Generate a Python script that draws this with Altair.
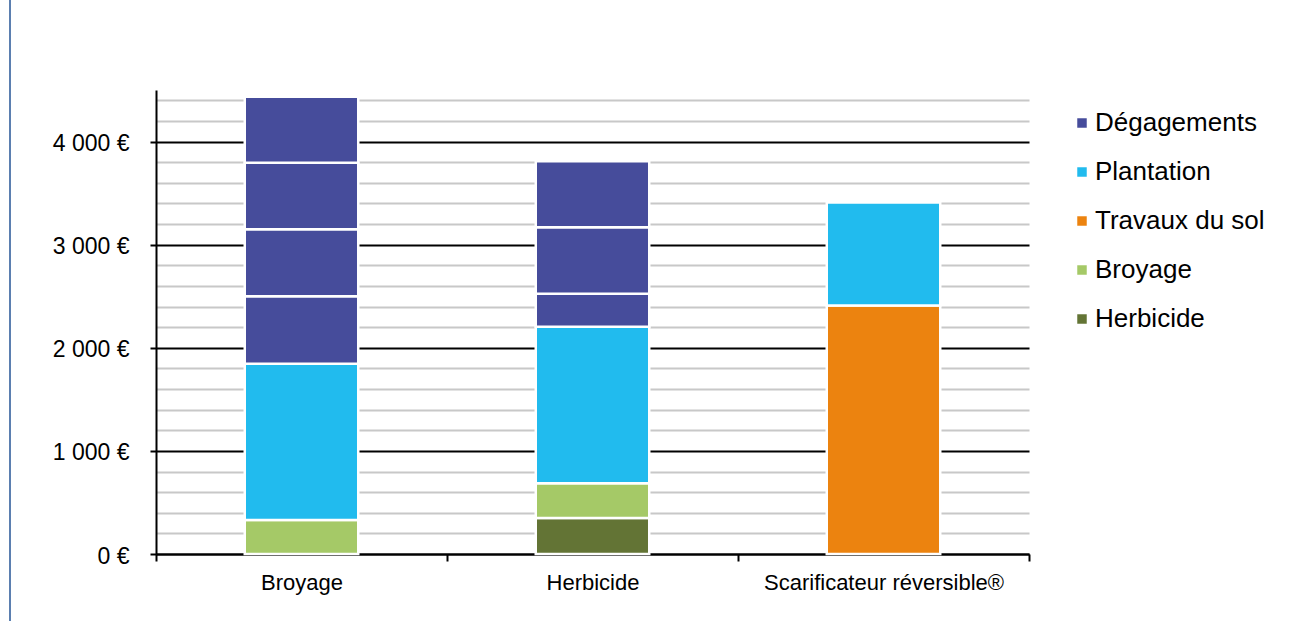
import altair as alt
import pandas as pd

# --- data ---
bars = ["Broyage", "Herbicide", "Scarificateur réversible®"]
categories = ["Dégagements", "Plantation", "Travaux du sol", "Broyage", "Herbicide"]
colors = ["#464C9B", "#21BBEE", "#EC830F", "#A5C967", "#637435"]

# stacked segments (bottom to top) for each bar
seg_bar = ["Broyage"] * 6 + ["Herbicide"] * 6 + ["Scarificateur réversible®"] * 2
seg_cat = ["Broyage", "Plantation", "Dégagements", "Dégagements", "Dégagements", "Dégagements",
           "Herbicide", "Broyage", "Plantation", "Dégagements", "Dégagements", "Dégagements",
           "Travaux du sol", "Plantation"]
seg_val = [330, 1515, 655, 650, 645, 640,
           350, 335, 1520, 320, 645, 640,
           2410, 1000]
seg_ord = [1, 2, 3, 4, 5, 6,
           1, 2, 3, 4, 5, 6,
           1, 2]

y_ticks = list(range(0, 4600, 200))

df = pd.DataFrame({"bar": seg_bar, "cat": seg_cat, "val": seg_val, "ord": seg_ord})

FONT = "Liberation Sans"

bars_layer = alt.Chart(df).mark_bar(
    stroke="white", strokeWidth=2.5, width=alt.RelativeBandSize(0.39)
).encode(
    x=alt.X("bar:N", sort=bars,
            scale=alt.Scale(paddingInner=0, paddingOuter=0),
            axis=alt.Axis(title=None, labelAngle=0, tickBand="extent",
                          domainColor="black", domainWidth=2,
                          tickColor="black", tickWidth=2, tickSize=7,
                          labelFont=FONT, labelFontSize=22, labelColor="black",
                          labelPadding=11, labelLimit=0, grid=False)),
    y=alt.Y("val:Q", stack="zero",
            scale=alt.Scale(domain=[0, 4500], nice=False),
            axis=alt.Axis(title=None, values=y_ticks,
                          labelExpr="datum.value % 1000 === 0 ? replace(format(datum.value, ','), ',', ' ') + ' €' : ''",
                          labelFont=FONT, labelFontSize=23, labelColor="black",
                          labelPadding=21, labelLimit=0, labelOffset=2,
                          domainColor="black", domainWidth=2,
                          tickSize=6, tickWidth=2,
                          tickColor={"condition": {"test": "datum.value % 1000 === 0", "value": "black"},
                                     "value": "transparent"},
                          grid=True, gridWidth=2,
                          gridColor={"condition": {"test": "datum.value % 1000 === 0", "value": "black"},
                                     "value": "#C8C8C8"})),
    color=alt.Color("cat:N", scale=alt.Scale(domain=categories, range=colors),
                    legend=alt.Legend(title=None, orient="none", legendX=913, legendY=20,
                                      symbolType="square", symbolSize=90, symbolStrokeWidth=0,
                                      labelFont=FONT, labelFontSize=26, labelColor="black",
                                      labelOffset=0, labelLimit=0, rowPadding=23)),
    order=alt.Order("ord:Q", sort="ascending"),
)

border = alt.Chart(pd.DataFrame({"k": [0]})).mark_rule(color="#5B7FB0", strokeWidth=2).encode(
    x=alt.value(-146), y=alt.value(-95), y2=alt.value(540)
)

chart = alt.layer(bars_layer, border).properties(
    width=873, height=464,
    autosize=alt.AutoSizeParams(type="none"),
    padding={"left": 156, "top": 90, "right": 271, "bottom": 67},
).configure(background="white").configure_view(stroke=None)

chart.save("out.html", embed_options={"renderer": "svg", "actions": False})
